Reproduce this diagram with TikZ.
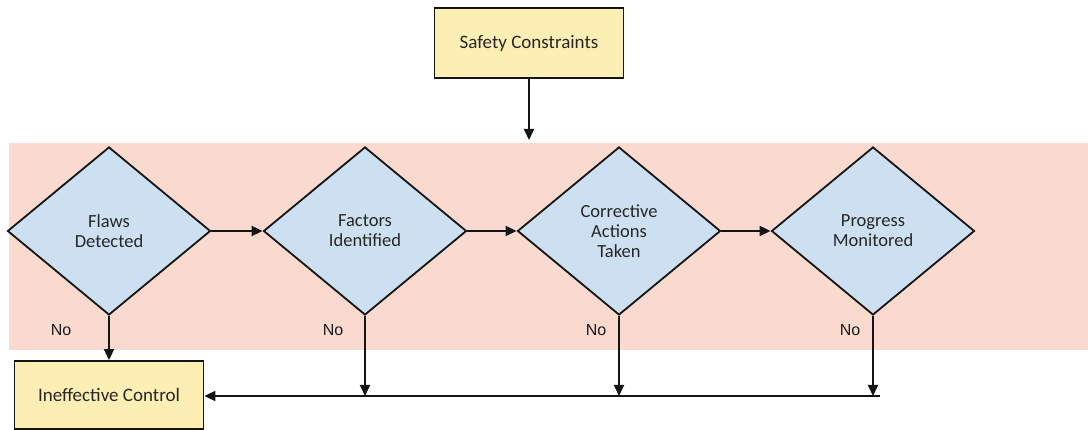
\documentclass[tikz,border=0pt]{standalone}
\usepackage{fontspec}
\setmainfont{Carlito}
\newfontfamily\labelfont{Liberation Sans}
\usetikzlibrary{shapes.geometric,arrows.meta}
\definecolor{bandpink}{RGB}{250,217,207}
\definecolor{stepblue}{RGB}{205,224,242}
\definecolor{boxyellow}{RGB}{253,239,180}
\definecolor{edgegray}{RGB}{20,20,20}
\tikzset{
  tip/.style={-{Triangle[length=11pt,width=10pt]}},
  link/.style={draw=edgegray,line width=1.8pt,tip},
  termbox/.style={draw=edgegray,line width=1.8pt,fill=boxyellow,rectangle,
    inner sep=0pt,font=\fontsize{19}{22}\selectfont,text=black!85},
  check/.style={draw=edgegray,line width=1.8pt,fill=stepblue,diamond,
    minimum width=203pt,minimum height=168pt,inner sep=0pt,align=center,
    font=\fontsize{18.5}{20}\selectfont,text=black!85},
  nolabel/.style={font=\labelfont\fontsize{16}{18}\selectfont,text=black!90}
}
\begin{document}
\begin{tikzpicture}[x=1pt,y=-1pt]
  \useasboundingbox (0,0) rectangle (1088,430);
  \fill[white] (0,0) rectangle (1088,430);
  % shaded band behind the chain of checks
  \fill[bandpink] (9,143) rectangle (1088,350);

  % top input and the outcome box
  \node[termbox,minimum width=189pt,minimum height=70pt] (safety) at (529,43) {Safety Constraints};
  \node[termbox,minimum width=189pt,minimum height=68pt] (fail) at (109,395) {Ineffective Control};

  % the four checks
  \node[check] (flaws)    at (109,231) {Flaws\\Detected};
  \node[check] (factors)  at (365,231) {Factors\\Identified};
  \node[check] (actions)  at (619,231) {Corrective\\Actions\\Taken};
  \node[check] (progress) at (873,231) {Progress\\Monitored};

  % forward flow
  \coordinate (bandtop) at (529,140);
  \draw[link] (safety.south) -- (bandtop);
  \draw[link] (flaws.east) -- (factors.west);
  \draw[link] (factors.east) -- (actions.west);
  \draw[link] (actions.east) -- (progress.west);

  % "No" branches collected on a return line
  \coordinate (busend) at (880,396);
  \draw[link] (flaws.south) -- (fail.north);
  \draw[link] (busend) -- (fail.east |- busend);
  \draw[link] (factors.south) -- (factors.south |- busend);
  \draw[link] (actions.south) -- (actions.south |- busend);
  \draw[link] (progress.south) -- (progress.south |- busend);

  \node[nolabel] (no1) at (61,330)  {No};
  \node[nolabel] (no2) at (333,330) {No};
  \node[nolabel] (no3) at (596,330) {No};
  \node[nolabel] (no4) at (850,330) {No};
\end{tikzpicture}
\end{document}
